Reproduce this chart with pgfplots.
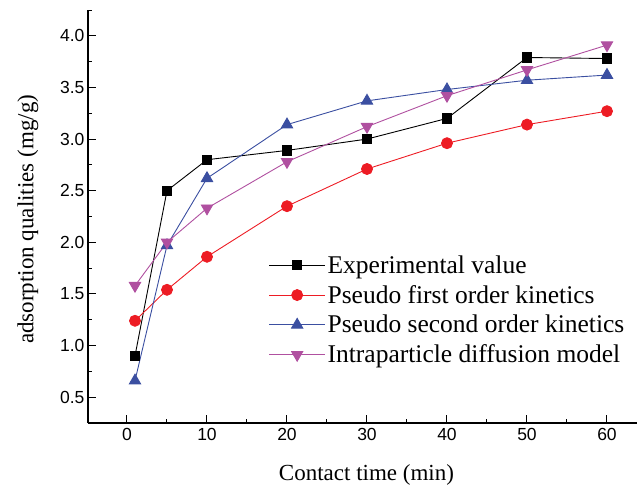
\documentclass[border=0pt]{standalone}
\usepackage{fontspec}
\setmainfont{Liberation Serif}
\setsansfont{Liberation Sans}
\usepackage{pgfplots}
\pgfplotsset{compat=1.18}

\definecolor{expblack}{RGB}{0,0,0}
\definecolor{pfored}{RGB}{237,28,36}
\definecolor{psoblue}{RGB}{59,79,161}
\definecolor{idmmag}{RGB}{176,80,160}

\begin{document}
\begin{tikzpicture}
\begin{axis}[
  scale only axis,
  width=549pt, height=413pt,
  at={(0,0)}, anchor=south west,
  xmin=-4.875, xmax=63.75,
  ymin=0.25, ymax=4.25,
  axis lines*=left,
  axis line style={line width=1.1pt},
  xtick={0,10,...,60},
  minor xtick={5,15,...,55},
  ytick={0.5,1.0,...,4.0},
  minor ytick={0.75,1.25,...,3.75,4.25},
  tick align=inside,
  major tick length=8pt,
  minor tick length=4.5pt,
  every tick/.style={line width=1pt, black},
  /pgf/number format/assume math mode=true,
  ticklabel style={font=\sffamily\fontsize{17.5}{20}\selectfont},
  yticklabel style={/pgf/number format/.cd, fixed, fixed zerofill, precision=1},
  xticklabel style={yshift=-2pt},
  xlabel={Contact time (min)},
  ylabel={adsorption qualities (mg/g)},
  label style={font=\fontsize{23}{27}\selectfont},
  xlabel style={at={(axis description cs:0.5,0)}, anchor=base, yshift=-57pt, xshift=4pt},
  ylabel style={at={(axis description cs:-0.1093,0.493)}, anchor=center},
  legend style={draw=none, fill=none, font=\fontsize{25.5}{30}\selectfont,
    at={(0.327,0.413)}, anchor=north west, row sep=6.5pt, inner sep=1pt},
  legend cell align=left,
  legend image code/.code={%
    \draw[mark repeat=2,mark phase=2] plot coordinates {(0pt,0pt) (28pt,0pt) (56pt,0pt)};},
  every axis plot/.append style={line width=0.9pt},
]
\addplot[color=expblack, mark=square*, mark size=4.6pt, mark options={solid}]
  coordinates {(1,0.90) (5,2.50) (10,2.80) (20,2.89) (30,3.00) (40,3.20) (50,3.79) (60,3.78)};
\addlegendentry{Experimental value}
\addplot[color=pfored, mark=*, mark size=5.5pt]
  coordinates {(1,1.24) (5,1.54) (10,1.86) (20,2.35) (30,2.71) (40,2.96) (50,3.14) (60,3.27)};
\addlegendentry{Pseudo first order kinetics}
\addplot[color=psoblue, mark=triangle*, mark size=6.5pt]
  coordinates {(1,0.66) (5,1.97) (10,2.62) (20,3.14) (30,3.37) (40,3.48) (50,3.57) (60,3.62)};
\addlegendentry{Pseudo second order kinetics}
\addplot[color=idmmag, mark=triangle*, mark size=6.5pt, mark options={rotate=180}]
  coordinates {(1,1.58) (5,2.00) (10,2.33) (20,2.78) (30,3.12) (40,3.42) (50,3.67) (60,3.91)};
\addlegendentry{Intraparticle diffusion model}
\end{axis}
\path (-88pt,-60pt) rectangle (550pt,423pt);
\end{tikzpicture}
\end{document}
